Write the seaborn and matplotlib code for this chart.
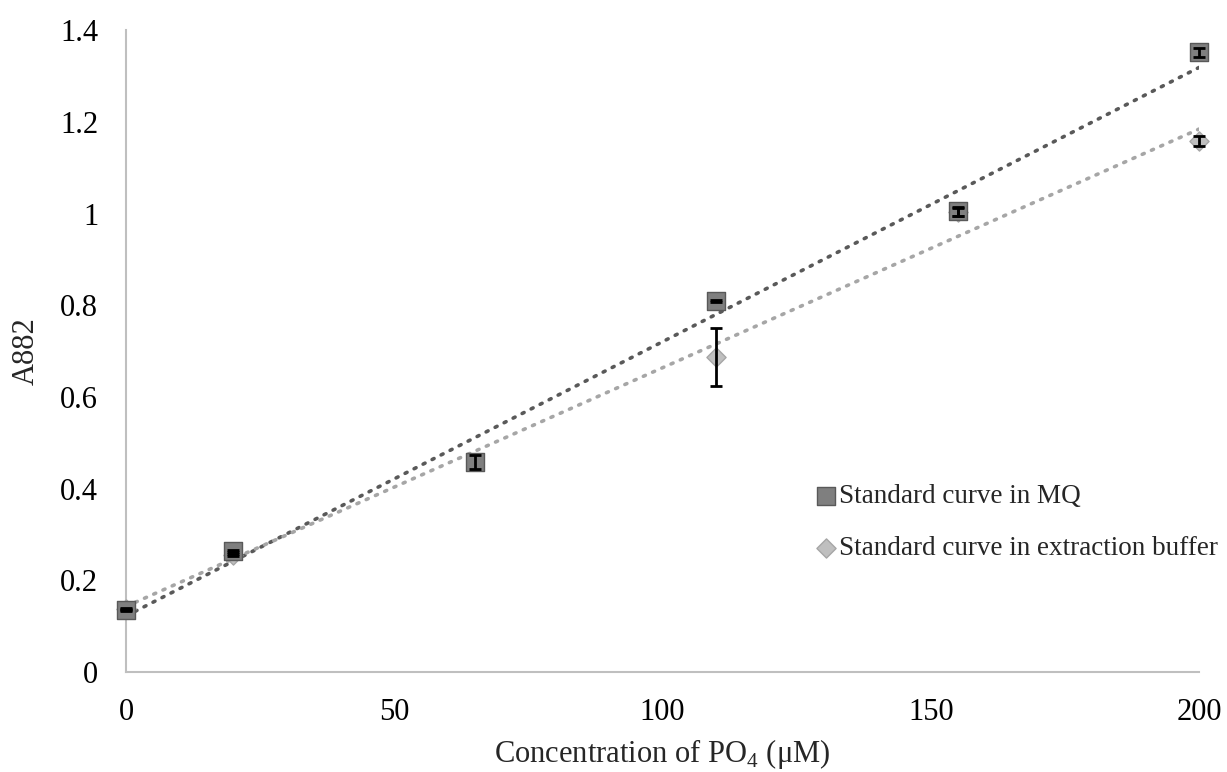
import numpy as np
import pandas as pd
import matplotlib
matplotlib.use("Agg")
import matplotlib.pyplot as plt
import seaborn as sns

# Data
conc_mq = [0, 20, 65, 110, 155, 200]
a882_mq = [0.135, 0.264, 0.458, 0.809, 1.005, 1.352]
err_mq = [0.002, 0.002, 0.015, 0.002, 0.010, 0.010]

conc_eb = [0, 20, 110, 155, 200]
a882_eb = [0.137, 0.255, 0.687, 1.003, 1.158]
err_eb = [0.002, 0.002, 0.063, 0.008, 0.010]

label_mq = "Standard curve in MQ"
label_eb = "Standard curve in extraction buffer"
x_ticks = [0, 50, 100, 150, 200]
y_ticks = [0, 0.2, 0.4, 0.6, 0.8, 1.0, 1.2, 1.4]
y_ticklabels = ["0", "0.2", "0.4", "0.6", "0.8", "1", "1.2", "1.4"]

sns.set_theme(style="white")
plt.rcParams["font.family"] = ["Liberation Serif", "DejaVu Serif"]
plt.rcParams["mathtext.fontset"] = "custom"
plt.rcParams["mathtext.rm"] = "Liberation Serif"

df_mq = pd.DataFrame({"conc": conc_mq, "a882": a882_mq})
df_eb = pd.DataFrame({"conc": conc_eb, "a882": a882_eb})

fig = plt.figure(figsize=(12.27, 7.72), dpi=100)
ax = fig.add_axes([0.1027, 0.1295, 0.8745, 0.8315])

# Trend lines (linear fits)
sns.regplot(data=df_mq, x="conc", y="a882", ax=ax, scatter=False, ci=None,
            truncate=True,
            line_kws=dict(color="#595959", lw=2.6, linestyle=(0, (0.6, 2.2)),
                          dash_capstyle="round", zorder=2))
sns.regplot(data=df_eb, x="conc", y="a882", ax=ax, scatter=False, ci=None,
            truncate=True,
            line_kws=dict(color="#A6A6A6", lw=2.6, linestyle=(0, (0.6, 2.2)),
                          dash_capstyle="round", zorder=2))

# Markers
sns.scatterplot(data=df_eb, x="conc", y="a882", ax=ax, marker="D", s=95,
                color="#BFBFBF", edgecolor="#A6A6A6", linewidth=1, zorder=3,
                label=label_eb, clip_on=False)
sns.scatterplot(data=df_mq, x="conc", y="a882", ax=ax, marker="s", s=150,
                color="#7F7F7F", edgecolor="#595959", linewidth=1, zorder=4,
                label=label_mq, clip_on=False)

# Error bars
ax.errorbar(conc_mq, a882_mq, yerr=err_mq, fmt="none", ecolor="black",
            elinewidth=2, capsize=4.5, capthick=2, zorder=5, clip_on=False)
ax.errorbar(conc_eb, a882_eb, yerr=err_eb, fmt="none", ecolor="black",
            elinewidth=2, capsize=4.5, capthick=2, zorder=5, clip_on=False)

ax.set_xlim(0, 200)
ax.set_ylim(0, 1.4)
ax.set_xticks(x_ticks)
ax.set_yticks(y_ticks)
ax.set_yticklabels(y_ticklabels)
ax.tick_params(axis="both", labelsize=22, colors="black", length=0)
ax.tick_params(axis="y", pad=20)
ax.tick_params(axis="x", pad=19)

for s in ["top", "right"]:
    ax.spines[s].set_visible(False)
for s in ["left", "bottom"]:
    ax.spines[s].set_color("#BFBFBF")
    ax.spines[s].set_linewidth(1.5)
ax.grid(False)

ax.set_xlabel(r"Concentration of PO$_4$ ($\mathrm{\mu}$M)", fontsize=22, labelpad=7)
ax.set_ylabel("A882", fontsize=22, labelpad=14)

handles, labels = ax.get_legend_handles_labels()
order = [labels.index(label_mq), labels.index(label_eb)]
leg = ax.legend([handles[i] for i in order], [labels[i] for i in order],
                loc="upper left", bbox_to_anchor=(0.635, 0.31), frameon=False,
                fontsize=19.5, handlelength=0.6, handletextpad=0.15,
                labelspacing=1.0, borderaxespad=0)
sizes = [150, 95]
for h, sz in zip(leg.legend_handles, sizes):
    h.set_sizes([sz])

fig.savefig("out.png", dpi=100, facecolor="white")
